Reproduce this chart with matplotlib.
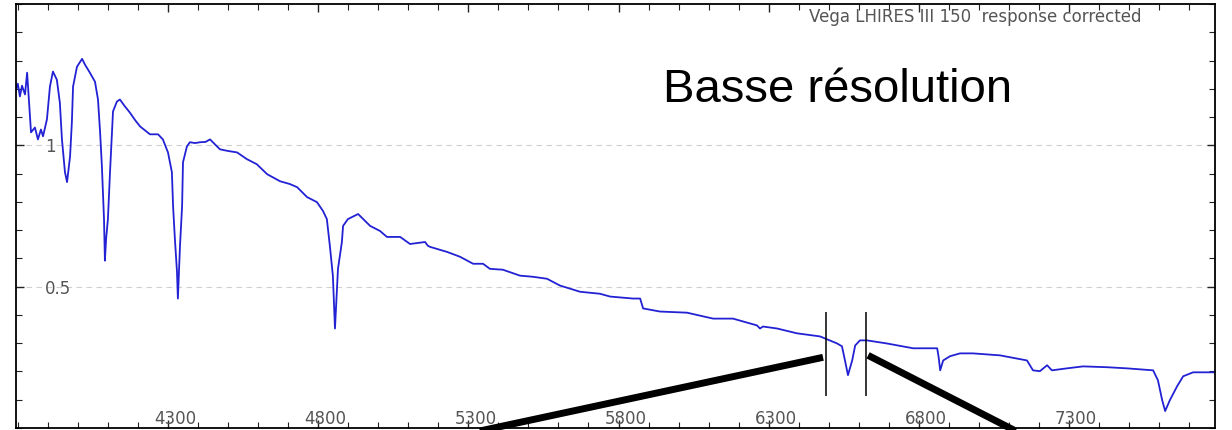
import matplotlib.pyplot as plt
from matplotlib.ticker import MultipleLocator
from matplotlib.transforms import ScaledTranslation

# spectrum (wavelength in Angstrom, relative flux)
wave = [3794, 3800, 3807, 3814, 3824, 3831, 3837, 3844, 3857, 3867, 3877, 3884,
        3897, 3907, 3917, 3930, 3940, 3947, 3957, 3964, 3974, 3980, 3984, 3997,
        4014, 4024, 4040, 4057, 4067, 4074, 4080, 4087, 4090, 4094, 4100, 4107,
        4114, 4117, 4130, 4140, 4155, 4173, 4190, 4207, 4240, 4267, 4283, 4300,
        4313, 4317, 4323, 4330, 4333, 4340, 4347, 4350, 4363, 4373, 4390, 4407,
        4425, 4440, 4473, 4500, 4530, 4563, 4596, 4630, 4673, 4706, 4730, 4763,
        4796, 4816, 4829, 4839, 4849, 4856, 4866, 4879, 4883, 4899, 4933, 4973,
        5006, 5029, 5073, 5106, 5156, 5165, 5172, 5229, 5272, 5316, 5349, 5372,
        5415, 5472, 5515, 5562, 5605, 5672, 5738, 5772, 5848, 5872, 5882, 5938,
        6028, 6115, 6181, 6261, 6271, 6281, 6328, 6394, 6471, 6528, 6544, 6554,
        6564, 6578, 6588, 6604, 6627, 6694, 6781, 6861, 6866, 6871, 6881, 6904,
        6937, 6980, 7070, 7160, 7180, 7203, 7227, 7243, 7293, 7347, 7427, 7493,
        7580, 7596, 7610, 7620, 7636, 7660, 7680, 7713, 7786]
flux = [1.197, 1.218, 1.173, 1.211, 1.180, 1.257, 1.162, 1.046, 1.063, 1.021, 1.056, 1.032,
        1.092, 1.208, 1.261, 1.232, 1.151, 1.021, 0.905, 0.870, 0.961, 1.081, 1.208, 1.278,
        1.306, 1.285, 1.257, 1.225, 1.162, 1.046, 0.926, 0.739, 0.592, 0.669, 0.739, 0.905,
        1.056, 1.120, 1.155, 1.162, 1.140, 1.116, 1.090, 1.067, 1.039, 1.039, 1.021, 0.975,
        0.905, 0.785, 0.669, 0.553, 0.458, 0.644, 0.785, 0.940, 0.996, 1.011, 1.008, 1.011,
        1.012, 1.021, 0.986, 0.980, 0.975, 0.951, 0.933, 0.898, 0.873, 0.863, 0.852, 0.817,
        0.799, 0.768, 0.739, 0.644, 0.539, 0.352, 0.563, 0.658, 0.715, 0.739, 0.757, 0.715,
        0.697, 0.676, 0.676, 0.651, 0.658, 0.645, 0.641, 0.623, 0.606, 0.581, 0.581, 0.563,
        0.560, 0.539, 0.535, 0.528, 0.504, 0.482, 0.475, 0.465, 0.458, 0.458, 0.423, 0.412,
        0.408, 0.387, 0.387, 0.363, 0.352, 0.359, 0.352, 0.335, 0.324, 0.299, 0.289, 0.239,
        0.187, 0.239, 0.292, 0.310, 0.310, 0.299, 0.282, 0.282, 0.250, 0.204, 0.239, 0.254,
        0.264, 0.264, 0.257, 0.239, 0.204, 0.201, 0.222, 0.204, 0.211, 0.218, 0.215, 0.211,
        0.204, 0.169, 0.099, 0.060, 0.099, 0.148, 0.183, 0.197, 0.197]

x_major = [4300, 4800, 5300, 5800, 6300, 6800, 7300]
y_major = [0.5, 1]

# H-alpha window and the two zoom lines leaving it
win = [6491, 6624]
win_y = [0.113, 0.412]
zoom_left = ([6481, 5152], [0.250, -0.053])
zoom_right = ([6631, 7200], [0.257, -0.053])

fig = plt.figure(figsize=(12.32, 4.30), dpi=100)
ax = fig.add_axes([16 / 1232, 2 / 430, 1199 / 1232, 424 / 430])

ax.plot(wave, flux, color='#2222d4', lw=1.3)

ax.set_xlim(3794, 7786)
ax.set_ylim(0, 1.5)
ax.set_xticks(x_major)
ax.set_yticks(y_major)
ax.set_yticklabels(['0.5', '1'])
ax.xaxis.set_minor_locator(MultipleLocator(100))
ax.yaxis.set_minor_locator(MultipleLocator(0.1))
ax.grid(axis='y', which='major', color='#d0d0d0', linestyle=(0, (5, 4)), lw=0.8)

ax.tick_params(which='both', direction='in', top=True, right=True, color='#222222')
ax.tick_params(which='major', length=6, width=1)
ax.tick_params(which='minor', length=4, width=0.8)
ax.tick_params(axis='x', which='major', pad=0, labelsize=12, labelcolor='#555555')
ax.tick_params(axis='y', which='major', pad=-21, labelsize=12, labelcolor='#555555')
for sp in ax.spines.values():
    sp.set_linewidth(1.3)

# labels sit a bit right of their ticks in the original
shift = ScaledTranslation(7 / 100, 0, fig.dpi_scale_trans)
for tick in ax.xaxis.get_major_ticks(len(x_major)):
    tick.label1.set_verticalalignment('bottom')
    tick.label1.set_transform(tick.label1.get_transform() + shift)
for tick in ax.yaxis.get_major_ticks(len(y_major)):
    tick.label1.set_horizontalalignment('left')

ax.text(0.939, 0.969, 'Vega LHIRES III 150  response corrected', transform=ax.transAxes,
        ha='right', va='center', fontsize=12, color='#555555')
ax.text(0.5396, 0.768, 'Basse résolution', transform=ax.transAxes, ha='left',
        va='baseline', fontsize=34, family='Liberation Sans', color='black')

ax.vlines(win, win_y[0], win_y[1], color='black', lw=1.1)
ax.plot(zoom_left[0], zoom_left[1], color='black', lw=5, clip_on=False, solid_capstyle='butt')
ax.plot(zoom_right[0], zoom_right[1], color='black', lw=5, clip_on=False, solid_capstyle='butt')

fig.savefig('out.png', dpi=100)
plt.close(fig)
